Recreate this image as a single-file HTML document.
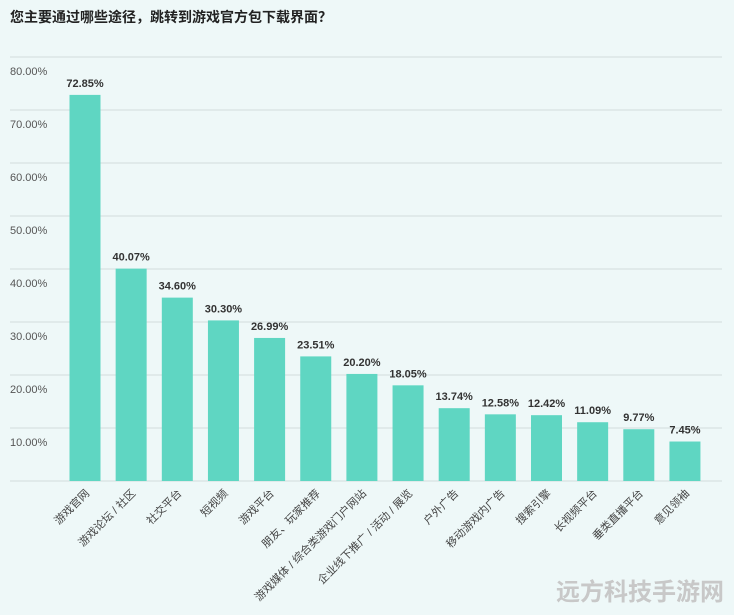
<!DOCTYPE html>
<html><head><meta charset="utf-8"><style>
body{margin:0;background:#eef8f8;width:734px;height:610px;overflow:hidden;font-family:"Liberation Sans","Noto Sans CJK SC",sans-serif}
</style></head><body>
<svg id="c" width="734" height="610">
<rect width="734" height="610" fill="#eef8f8"/>
<text x="10" y="22" font-size="14" font-weight="bold" fill="#222" font-family="Liberation Sans, Noto Sans CJK SC, sans-serif">您主要通过哪些途径，跳转到游戏官方包下载界面？</text>
<text x="724" y="600" font-size="24" font-weight="bold" fill="#c8c8c8" text-anchor="end" font-family="Liberation Sans, Noto Sans CJK SC, sans-serif">远方科技手游网</text>
</svg>
<script>
const categories=["游戏官网","游戏论坛 / 社区","社交平台","短视频","游戏平台","朋友、玩家推荐","游戏媒体 / 综合类游戏门户网站","企业线下推广 / 活动 / 展览","户外广告","移动游戏内广告","搜索引擎","长视频平台","垂类直播平台","意见领袖"];
const values=[72.85,40.07,34.60,30.30,26.99,23.51,20.20,18.05,13.74,12.58,12.42,11.09,9.77,7.45];
const valueLabels=["72.85%","40.07%","34.60%","30.30%","26.99%","23.51%","20.20%","18.05%","13.74%","12.58%","12.42%","11.09%","9.77%","7.45%"];
const ticks=[0,10,20,30,40,50,60,70,80];
const tickLabels=["","10.00%","20.00%","30.00%","40.00%","50.00%","60.00%","70.00%","80.00%"];
const svg=document.getElementById('c');const NS='http://www.w3.org/2000/svg';
const y0=481,ppu=53/10;const yS=v=>y0-v*ppu;
const xS=i=>85+i*46.15;
function mk(t,a){const e=document.createElementNS(NS,t);for(const k in a)e.setAttribute(k,a[k]);svg.appendChild(e);return e;}
ticks.forEach((t,i)=>{
 const l=mk('line',{x1:10,x2:722,y1:yS(t),y2:yS(t),stroke:'#d3dcdc','stroke-width':1});
 
 
 if(tickLabels[i]){const tx=mk('text',{x:10,y:yS(t)+18,'font-size':11,fill:'#555'});tx.textContent=tickLabels[i];
 
 }
});
values.forEach((v,i)=>{
 const cx=xS(i);
 const r=mk('rect',{x:cx-15.5,y:yS(v),width:31,height:y0-yS(v),fill:'#5fd6c2'});
 
 
 const t=mk('text',{x:cx,y:yS(v)-8,'text-anchor':'middle','font-size':11,'font-weight':'bold',fill:'#333'});t.textContent=valueLabels[i];
 
 
 const c=mk('text',{x:cx+5,y:494,'text-anchor':'end','font-size':11,fill:'#444',transform:`rotate(-45 ${cx+5} 494)`});c.textContent=categories[i];
 
 
});
</script>
</body></html>
